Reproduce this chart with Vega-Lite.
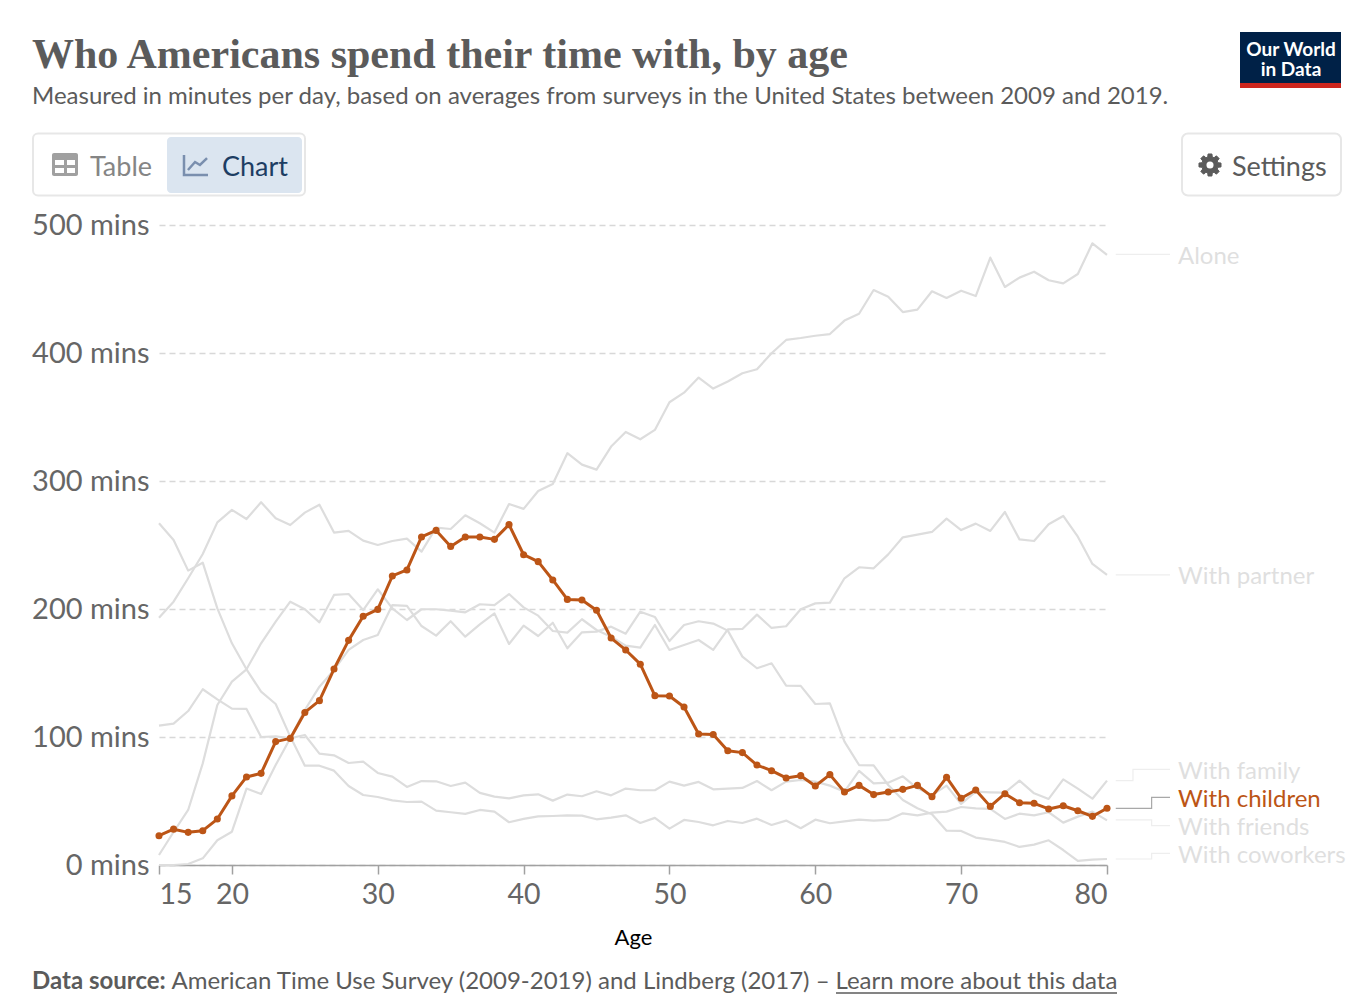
{"$schema":"https://vega.github.io/schema/vega-lite/v6.json","width":948,"height":640,"autosize":"none","padding":{"left":159,"top":225,"right":263,"bottom":135},"background":"white",
"title":{"text":"Who Americans spend their time with, by age","subtitle":"Measured in minutes per day, based on averages from surveys in the United States between 2009 and 2019.","anchor":"start","frame":"group","dx":-127,"offset":-78,"font":"Liberation Serif","fontSize":42,"fontWeight":"bold","color":"#5b5b5b","subtitleFont":"Lato","subtitleFontSize":24,"subtitleColor":"#5b5b5b","subtitlePadding":8},
"config":{"view":{"stroke":null},"text":{"font":"Lato"},"axis":{"labelFont":"Lato","titleFont":"Lato"}},
"datasets":{"times":[
{"age":15,"series":"Alone","mins":193.2},{"age":16,"series":"Alone","mins":205.7},{"age":17,"series":"Alone","mins":224},{"age":18,"series":"Alone","mins":243},{"age":19,"series":"Alone","mins":267.7},{"age":20,"series":"Alone","mins":277.4},{"age":21,"series":"Alone","mins":270.3},{"age":22,"series":"Alone","mins":283.4},{"age":23,"series":"Alone","mins":270.9},{"age":24,"series":"Alone","mins":265.6},{"age":25,"series":"Alone","mins":275.3},{"age":26,"series":"Alone","mins":281.5},{"age":27,"series":"Alone","mins":259.7},{"age":28,"series":"Alone","mins":261},{"age":29,"series":"Alone","mins":253.4},{"age":30,"series":"Alone","mins":250},{"age":31,"series":"Alone","mins":253.1},{"age":32,"series":"Alone","mins":255},{"age":33,"series":"Alone","mins":244.8},{"age":34,"series":"Alone","mins":263.6},{"age":35,"series":"Alone","mins":262.5},{"age":36,"series":"Alone","mins":273.2},{"age":37,"series":"Alone","mins":267},{"age":38,"series":"Alone","mins":259.7},{"age":39,"series":"Alone","mins":282},{"age":40,"series":"Alone","mins":278.2},{"age":41,"series":"Alone","mins":292.2},{"age":42,"series":"Alone","mins":297.7},{"age":43,"series":"Alone","mins":321.7},{"age":44,"series":"Alone","mins":312.8},{"age":45,"series":"Alone","mins":308.9},{"age":46,"series":"Alone","mins":326.9},{"age":47,"series":"Alone","mins":338.3},{"age":48,"series":"Alone","mins":332.6},{"age":49,"series":"Alone","mins":339.9},{"age":50,"series":"Alone","mins":361.5},{"age":51,"series":"Alone","mins":369},{"age":52,"series":"Alone","mins":380.8},{"age":53,"series":"Alone","mins":372.2},{"age":54,"series":"Alone","mins":377.7},{"age":55,"series":"Alone","mins":384.2},{"age":56,"series":"Alone","mins":387.3},{"age":57,"series":"Alone","mins":399.8},{"age":58,"series":"Alone","mins":410.2},{"age":59,"series":"Alone","mins":411.7},{"age":60,"series":"Alone","mins":413.5},{"age":61,"series":"Alone","mins":414.8},{"age":62,"series":"Alone","mins":425.3},{"age":63,"series":"Alone","mins":430.7},{"age":64,"series":"Alone","mins":449.2},{"age":65,"series":"Alone","mins":444},{"age":66,"series":"Alone","mins":432},{"age":67,"series":"Alone","mins":433.9},{"age":68,"series":"Alone","mins":448.2},{"age":69,"series":"Alone","mins":443},{"age":70,"series":"Alone","mins":448.7},{"age":71,"series":"Alone","mins":444.5},{"age":72,"series":"Alone","mins":474.5},{"age":73,"series":"Alone","mins":451.6},{"age":74,"series":"Alone","mins":458.9},{"age":75,"series":"Alone","mins":463.5},{"age":76,"series":"Alone","mins":456.8},{"age":77,"series":"Alone","mins":454.4},{"age":78,"series":"Alone","mins":461.7},{"age":79,"series":"Alone","mins":485.7},{"age":80,"series":"Alone","mins":476.6},
{"age":15,"series":"With partner","mins":7.8},{"age":16,"series":"With partner","mins":25.8},{"age":17,"series":"With partner","mins":43},{"age":18,"series":"With partner","mins":79.4},{"age":19,"series":"With partner","mins":125},{"age":20,"series":"With partner","mins":143.2},{"age":21,"series":"With partner","mins":152.9},{"age":22,"series":"With partner","mins":173.2},{"age":23,"series":"With partner","mins":190.1},{"age":24,"series":"With partner","mins":205.7},{"age":25,"series":"With partner","mins":199.8},{"age":26,"series":"With partner","mins":189.6},{"age":27,"series":"With partner","mins":211},{"age":28,"series":"With partner","mins":211.7},{"age":29,"series":"With partner","mins":199.2},{"age":30,"series":"With partner","mins":215.4},{"age":31,"series":"With partner","mins":200.5},{"age":32,"series":"With partner","mins":191.4},{"age":33,"series":"With partner","mins":199.8},{"age":34,"series":"With partner","mins":199.8},{"age":35,"series":"With partner","mins":198.7},{"age":36,"series":"With partner","mins":197.4},{"age":37,"series":"With partner","mins":203.7},{"age":38,"series":"With partner","mins":203.1},{"age":39,"series":"With partner","mins":211.7},{"age":40,"series":"With partner","mins":201.3},{"age":41,"series":"With partner","mins":194.8},{"age":42,"series":"With partner","mins":182.8},{"age":43,"series":"With partner","mins":181.5},{"age":44,"series":"With partner","mins":192},{"age":45,"series":"With partner","mins":183.6},{"age":46,"series":"With partner","mins":178.4},{"age":47,"series":"With partner","mins":171.4},{"age":48,"series":"With partner","mins":169.8},{"age":49,"series":"With partner","mins":187.5},{"age":50,"series":"With partner","mins":168},{"age":51,"series":"With partner","mins":171.9},{"age":52,"series":"With partner","mins":175.8},{"age":53,"series":"With partner","mins":168},{"age":54,"series":"With partner","mins":184.1},{"age":55,"series":"With partner","mins":184.4},{"age":56,"series":"With partner","mins":195.6},{"age":57,"series":"With partner","mins":185.2},{"age":58,"series":"With partner","mins":186.5},{"age":59,"series":"With partner","mins":199.8},{"age":60,"series":"With partner","mins":204.4},{"age":61,"series":"With partner","mins":205},{"age":62,"series":"With partner","mins":224},{"age":63,"series":"With partner","mins":232.6},{"age":64,"series":"With partner","mins":231.8},{"age":65,"series":"With partner","mins":242.7},{"age":66,"series":"With partner","mins":256},{"age":67,"series":"With partner","mins":258.1},{"age":68,"series":"With partner","mins":260.2},{"age":69,"series":"With partner","mins":270.6},{"age":70,"series":"With partner","mins":261.7},{"age":71,"series":"With partner","mins":266.7},{"age":72,"series":"With partner","mins":261},{"age":73,"series":"With partner","mins":275.8},{"age":74,"series":"With partner","mins":254.4},{"age":75,"series":"With partner","mins":253.1},{"age":76,"series":"With partner","mins":266.2},{"age":77,"series":"With partner","mins":272.7},{"age":78,"series":"With partner","mins":256.5},{"age":79,"series":"With partner","mins":235.2},{"age":80,"series":"With partner","mins":226.6},
{"age":15,"series":"With family","mins":108.9},{"age":16,"series":"With family","mins":110.4},{"age":17,"series":"With family","mins":120.3},{"age":18,"series":"With family","mins":137.3},{"age":19,"series":"With family","mins":129.4},{"age":20,"series":"With family","mins":122.2},{"age":21,"series":"With family","mins":121.9},{"age":22,"series":"With family","mins":100},{"age":23,"series":"With family","mins":100.5},{"age":24,"series":"With family","mins":99},{"age":25,"series":"With family","mins":101.6},{"age":26,"series":"With family","mins":87},{"age":27,"series":"With family","mins":85.7},{"age":28,"series":"With family","mins":79.7},{"age":29,"series":"With family","mins":80.7},{"age":30,"series":"With family","mins":71.9},{"age":31,"series":"With family","mins":69},{"age":32,"series":"With family","mins":61},{"age":33,"series":"With family","mins":65.6},{"age":34,"series":"With family","mins":65.4},{"age":35,"series":"With family","mins":61.7},{"age":36,"series":"With family","mins":64.3},{"age":37,"series":"With family","mins":56.3},{"age":38,"series":"With family","mins":53.4},{"age":39,"series":"With family","mins":52.1},{"age":40,"series":"With family","mins":54.4},{"age":41,"series":"With family","mins":55.2},{"age":42,"series":"With family","mins":50.3},{"age":43,"series":"With family","mins":55},{"age":44,"series":"With family","mins":53.7},{"age":45,"series":"With family","mins":57.6},{"age":46,"series":"With family","mins":54.4},{"age":47,"series":"With family","mins":59.7},{"age":48,"series":"With family","mins":58.4},{"age":49,"series":"With family","mins":58.4},{"age":50,"series":"With family","mins":65.1},{"age":51,"series":"With family","mins":62},{"age":52,"series":"With family","mins":64.9},{"age":53,"series":"With family","mins":59.1},{"age":54,"series":"With family","mins":59.7},{"age":55,"series":"With family","mins":60.2},{"age":56,"series":"With family","mins":65.6},{"age":57,"series":"With family","mins":58.4},{"age":58,"series":"With family","mins":65.1},{"age":59,"series":"With family","mins":66.4},{"age":60,"series":"With family","mins":65.1},{"age":61,"series":"With family","mins":62},{"age":62,"series":"With family","mins":57.3},{"age":63,"series":"With family","mins":73.5},{"age":64,"series":"With family","mins":63.8},{"age":65,"series":"With family","mins":64.3},{"age":66,"series":"With family","mins":69.3},{"age":67,"series":"With family","mins":59.9},{"age":68,"series":"With family","mins":54.7},{"age":69,"series":"With family","mins":62},{"age":70,"series":"With family","mins":47.7},{"age":71,"series":"With family","mins":57.3},{"age":72,"series":"With family","mins":56.8},{"age":73,"series":"With family","mins":56.5},{"age":74,"series":"With family","mins":65.9},{"age":75,"series":"With family","mins":56},{"age":76,"series":"With family","mins":51.6},{"age":77,"series":"With family","mins":66.9},{"age":78,"series":"With family","mins":59.7},{"age":79,"series":"With family","mins":51.8},{"age":80,"series":"With family","mins":65.9},
{"age":15,"series":"With friends","mins":267},{"age":16,"series":"With friends","mins":253.9},{"age":17,"series":"With friends","mins":230},{"age":18,"series":"With friends","mins":236.2},{"age":19,"series":"With friends","mins":200.5},{"age":20,"series":"With friends","mins":173.2},{"age":21,"series":"With friends","mins":152.9},{"age":22,"series":"With friends","mins":135.4},{"age":23,"series":"With friends","mins":125.8},{"age":24,"series":"With friends","mins":100.3},{"age":25,"series":"With friends","mins":77.6},{"age":26,"series":"With friends","mins":77.6},{"age":27,"series":"With friends","mins":73.7},{"age":28,"series":"With friends","mins":61.7},{"age":29,"series":"With friends","mins":54.7},{"age":30,"series":"With friends","mins":53.1},{"age":31,"series":"With friends","mins":50.5},{"age":32,"series":"With friends","mins":49.2},{"age":33,"series":"With friends","mins":49.5},{"age":34,"series":"With friends","mins":42.5},{"age":35,"series":"With friends","mins":41.2},{"age":36,"series":"With friends","mins":39.9},{"age":37,"series":"With friends","mins":43},{"age":38,"series":"With friends","mins":41.7},{"age":39,"series":"With friends","mins":33.4},{"age":40,"series":"With friends","mins":36},{"age":41,"series":"With friends","mins":38},{"age":42,"series":"With friends","mins":38.3},{"age":43,"series":"With friends","mins":38.8},{"age":44,"series":"With friends","mins":38.6},{"age":45,"series":"With friends","mins":35.7},{"age":46,"series":"With friends","mins":37},{"age":47,"series":"With friends","mins":38.8},{"age":48,"series":"With friends","mins":32.8},{"age":49,"series":"With friends","mins":36.8},{"age":50,"series":"With friends","mins":28.4},{"age":51,"series":"With friends","mins":35.2},{"age":52,"series":"With friends","mins":33.6},{"age":53,"series":"With friends","mins":31},{"age":54,"series":"With friends","mins":34.4},{"age":55,"series":"With friends","mins":32.8},{"age":56,"series":"With friends","mins":36.2},{"age":57,"series":"With friends","mins":31.3},{"age":58,"series":"With friends","mins":34.7},{"age":59,"series":"With friends","mins":28.7},{"age":60,"series":"With friends","mins":35.4},{"age":61,"series":"With friends","mins":32.6},{"age":62,"series":"With friends","mins":34.1},{"age":63,"series":"With friends","mins":35.4},{"age":64,"series":"With friends","mins":34.7},{"age":65,"series":"With friends","mins":35.2},{"age":66,"series":"With friends","mins":40.4},{"age":67,"series":"With friends","mins":38.8},{"age":68,"series":"With friends","mins":40.9},{"age":69,"series":"With friends","mins":41.7},{"age":70,"series":"With friends","mins":45.3},{"age":71,"series":"With friends","mins":44.3},{"age":72,"series":"With friends","mins":43.8},{"age":73,"series":"With friends","mins":36},{"age":74,"series":"With friends","mins":40.1},{"age":75,"series":"With friends","mins":38.8},{"age":76,"series":"With friends","mins":41.2},{"age":77,"series":"With friends","mins":33.1},{"age":78,"series":"With friends","mins":37.8},{"age":79,"series":"With friends","mins":41.7},{"age":80,"series":"With friends","mins":34.9},
{"age":15,"series":"With coworkers","mins":0},{"age":16,"series":"With coworkers","mins":0},{"age":17,"series":"With coworkers","mins":0.8},{"age":18,"series":"With coworkers","mins":5.2},{"age":19,"series":"With coworkers","mins":19.3},{"age":20,"series":"With coworkers","mins":26},{"age":21,"series":"With coworkers","mins":59.7},{"age":22,"series":"With coworkers","mins":55.5},{"age":23,"series":"With coworkers","mins":78.1},{"age":24,"series":"With coworkers","mins":99},{"age":25,"series":"With coworkers","mins":121.1},{"age":26,"series":"With coworkers","mins":139.3},{"age":27,"series":"With coworkers","mins":152.4},{"age":28,"series":"With coworkers","mins":168},{"age":29,"series":"With coworkers","mins":175.8},{"age":30,"series":"With coworkers","mins":179.7},{"age":31,"series":"With coworkers","mins":203.1},{"age":32,"series":"With coworkers","mins":202.4},{"age":33,"series":"With coworkers","mins":186.7},{"age":34,"series":"With coworkers","mins":179.2},{"age":35,"series":"With coworkers","mins":190.4},{"age":36,"series":"With coworkers","mins":178.4},{"age":37,"series":"With coworkers","mins":188},{"age":38,"series":"With coworkers","mins":196.6},{"age":39,"series":"With coworkers","mins":172.7},{"age":40,"series":"With coworkers","mins":187},{"age":41,"series":"With coworkers","mins":178.9},{"age":42,"series":"With coworkers","mins":189.3},{"age":43,"series":"With coworkers","mins":169.3},{"age":44,"series":"With coworkers","mins":181.8},{"age":45,"series":"With coworkers","mins":182.3},{"age":46,"series":"With coworkers","mins":186.2},{"age":47,"series":"With coworkers","mins":180.7},{"age":48,"series":"With coworkers","mins":197.9},{"age":49,"series":"With coworkers","mins":193.8},{"age":50,"series":"With coworkers","mins":175},{"age":51,"series":"With coworkers","mins":187.5},{"age":52,"series":"With coworkers","mins":190.4},{"age":53,"series":"With coworkers","mins":188.6},{"age":54,"series":"With coworkers","mins":183.1},{"age":55,"series":"With coworkers","mins":162.8},{"age":56,"series":"With coworkers","mins":153.7},{"age":57,"series":"With coworkers","mins":157.6},{"age":58,"series":"With coworkers","mins":140.1},{"age":59,"series":"With coworkers","mins":139.9},{"age":60,"series":"With coworkers","mins":125.8},{"age":61,"series":"With coworkers","mins":126.3},{"age":62,"series":"With coworkers","mins":96.4},{"age":63,"series":"With coworkers","mins":78.1},{"age":64,"series":"With coworkers","mins":77.9},{"age":65,"series":"With coworkers","mins":62.5},{"age":66,"series":"With coworkers","mins":50.8},{"age":67,"series":"With coworkers","mins":44.3},{"age":68,"series":"With coworkers","mins":39.6},{"age":69,"series":"With coworkers","mins":26.8},{"age":70,"series":"With coworkers","mins":26.6},{"age":71,"series":"With coworkers","mins":21.4},{"age":72,"series":"With coworkers","mins":19.8},{"age":73,"series":"With coworkers","mins":18},{"age":74,"series":"With coworkers","mins":14.1},{"age":75,"series":"With coworkers","mins":15.9},{"age":76,"series":"With coworkers","mins":19.3},{"age":77,"series":"With coworkers","mins":11.7},{"age":78,"series":"With coworkers","mins":3.2},{"age":79,"series":"With coworkers","mins":4.2},{"age":80,"series":"With coworkers","mins":4.7},
{"age":15,"series":"With children","mins":22.9},{"age":16,"series":"With children","mins":28},{"age":17,"series":"With children","mins":25.5},{"age":18,"series":"With children","mins":26.8},{"age":19,"series":"With children","mins":35.9},{"age":20,"series":"With children","mins":54},{"age":21,"series":"With children","mins":68.8},{"age":22,"series":"With children","mins":71.6},{"age":23,"series":"With children","mins":96.4},{"age":24,"series":"With children","mins":98.9},{"age":25,"series":"With children","mins":119.2},{"age":26,"series":"With children","mins":128.4},{"age":27,"series":"With children","mins":153.1},{"age":28,"series":"With children","mins":175.5},{"age":29,"series":"With children","mins":194.3},{"age":30,"series":"With children","mins":199.7},{"age":31,"series":"With children","mins":225.8},{"age":32,"series":"With children","mins":230.5},{"age":33,"series":"With children","mins":256.3},{"age":34,"series":"With children","mins":261.4},{"age":35,"series":"With children","mins":248.9},{"age":36,"series":"With children","mins":256.3},{"age":37,"series":"With children","mins":256.3},{"age":38,"series":"With children","mins":254.4},{"age":39,"series":"With children","mins":265.9},{"age":40,"series":"With children","mins":242.4},{"age":41,"series":"With children","mins":237},{"age":42,"series":"With children","mins":222.7},{"age":43,"series":"With children","mins":207.5},{"age":44,"series":"With children","mins":207},{"age":45,"series":"With children","mins":199},{"age":46,"series":"With children","mins":177.3},{"age":47,"series":"With children","mins":168},{"age":48,"series":"With children","mins":156.9},{"age":49,"series":"With children","mins":132.3},{"age":50,"series":"With children","mins":132},{"age":51,"series":"With children","mins":123.4},{"age":52,"series":"With children","mins":102.3},{"age":53,"series":"With children","mins":102},{"age":54,"series":"With children","mins":89.3},{"age":55,"series":"With children","mins":87.8},{"age":56,"series":"With children","mins":78.1},{"age":57,"series":"With children","mins":73.7},{"age":58,"series":"With children","mins":68},{"age":59,"series":"With children","mins":69.8},{"age":60,"series":"With children","mins":61.7},{"age":61,"series":"With children","mins":70.6},{"age":62,"series":"With children","mins":57},{"age":63,"series":"With children","mins":62.2},{"age":64,"series":"With children","mins":55},{"age":65,"series":"With children","mins":57},{"age":66,"series":"With children","mins":59.1},{"age":67,"series":"With children","mins":62.2},{"age":68,"series":"With children","mins":53.4},{"age":69,"series":"With children","mins":68.5},{"age":70,"series":"With children","mins":52.1},{"age":71,"series":"With children","mins":58.6},{"age":72,"series":"With children","mins":45.8},{"age":73,"series":"With children","mins":55.7},{"age":74,"series":"With children","mins":48.7},{"age":75,"series":"With children","mins":48.2},{"age":76,"series":"With children","mins":43.8},{"age":77,"series":"With children","mins":46.3},{"age":78,"series":"With children","mins":42.4},{"age":79,"series":"With children","mins":38},{"age":80,"series":"With children","mins":44.3}
],
"connectors":[
{"series":"Alone","age":80.6,"mins":477},{"series":"Alone","age":84.32,"mins":477,"label":"Alone"},
{"series":"With partner","age":80.6,"mins":226.6},{"series":"With partner","age":84.32,"mins":226.6,"label":"With partner"},
{"series":"With family","age":80.6,"mins":65.9},{"series":"With family","age":81.78,"mins":65.9},{"series":"With family","age":81.78,"mins":74.7},{"series":"With family","age":84.32,"mins":74.7,"label":"With family"},
{"series":"With children","age":80.6,"mins":44.3},{"series":"With children","age":83.06,"mins":44.3},{"series":"With children","age":83.06,"mins":52.9},{"series":"With children","age":84.32,"mins":52.9,"label":"With children"},
{"series":"With friends","age":80.6,"mins":35.2},{"series":"With friends","age":83.06,"mins":35.2},{"series":"With friends","age":83.06,"mins":30.7},{"series":"With friends","age":84.32,"mins":30.7,"label":"With friends"},
{"series":"With coworkers","age":80.6,"mins":4.7},{"series":"With coworkers","age":83.06,"mins":4.7},{"series":"With coworkers","age":83.06,"mins":9.1},{"series":"With coworkers","age":84.32,"mins":9.1,"label":"With coworkers"}
]},
"layer":[
{"data":{"name":"times"},"transform":[{"filter":"datum.series !== 'With children'"}],"mark":{"type":"line","color":"#dddddd","strokeWidth":2.2,"strokeJoin":"round"},
"encoding":{"x":{"field":"age","type":"quantitative","scale":{"domain":[15,80],"nice":false,"zero":false},"axis":{"values":[15,20,30,40,50,60,70,80],"labelFlush":true,"labelFontSize":28.5,"labelColor":"#666666","labelPadding":6,"domainColor":"#a1a1a1","domainWidth":1.5,"tickColor":"#a1a1a1","tickWidth":1.5,"tickSize":9,"grid":false,"title":"Age","titleFontSize":22,"titleFontWeight":"normal","titleColor":"#000000","titlePadding":19}},
"y":{"field":"mins","type":"quantitative","scale":{"domain":[0,500],"nice":false},"axis":{"values":[0,100,200,300,400,500],"labelExpr":"datum.value + ' mins'","labelFontSize":29,"labelColor":"#666666","labelPadding":10,"domain":false,"ticks":false,"grid":true,"gridColor":"#d8d8d8","gridDash":[6,4],"gridWidth":1.6,"title":null}},
"detail":{"field":"series"}}},
{"data":{"name":"times"},"transform":[{"filter":"datum.series === 'With children'"}],"mark":{"type":"line","color":"#bc5516","strokeWidth":3,"strokeJoin":"round"},"encoding":{"x":{"field":"age","type":"quantitative"},"y":{"field":"mins","type":"quantitative"}}},
{"data":{"name":"times"},"transform":[{"filter":"datum.series === 'With children'"}],"mark":{"type":"point","filled":true,"color":"#bc5516","opacity":1,"size":50},"encoding":{"x":{"field":"age","type":"quantitative"},"y":{"field":"mins","type":"quantitative"}}},
{"data":{"name":"connectors"},"mark":{"type":"line","strokeWidth":1.2,"clip":false},"encoding":{"x":{"field":"age","type":"quantitative"},"y":{"field":"mins","type":"quantitative"},"detail":{"field":"series"},"order":{"value":0},"color":{"condition":{"test":"datum.series === 'With children'","value":"#a8a8a8"},"value":"#eeeeee"}}},
{"data":{"name":"connectors"},"transform":[{"filter":"datum.label"}],"mark":{"type":"text","align":"left","baseline":"middle","dx":8,"dy":2.5,"fontSize":24,"font":"Lato"},"encoding":{"x":{"field":"age","type":"quantitative"},"y":{"field":"mins","type":"quantitative"},"text":{"field":"label"},"color":{"condition":{"test":"datum.series === 'With children'","value":"#bc5516"},"value":"#dfdfdf"}}},
{"data":{"values":[{}]},"layer":[
{"mark":{"type":"rect","fill":"white","stroke":"#e7e7e7","strokeWidth":2,"cornerRadius":5},"encoding":{"x":{"value":-126},"x2":{"value":146},"y":{"value":-91.5},"y2":{"value":-29.5}}},
{"mark":{"type":"rect","fill":"#dbe5f0","cornerRadius":4},"encoding":{"x":{"value":8},"x2":{"value":143},"y":{"value":-88},"y2":{"value":-32}}},
{"mark":{"type":"rect","fill":"#a0a0a0","cornerRadius":2},"encoding":{"x":{"value":-107},"x2":{"value":-81},"y":{"value":-72},"y2":{"value":-49}}},
{"mark":{"type":"rect","fill":"#ffffff"},"encoding":{"x":{"value":-104},"x2":{"value":-95},"y":{"value":-65},"y2":{"value":-60}}},
{"mark":{"type":"rect","fill":"#ffffff"},"encoding":{"x":{"value":-92},"x2":{"value":-84},"y":{"value":-65},"y2":{"value":-60}}},
{"mark":{"type":"rect","fill":"#ffffff"},"encoding":{"x":{"value":-104},"x2":{"value":-95},"y":{"value":-57},"y2":{"value":-52}}},
{"mark":{"type":"rect","fill":"#ffffff"},"encoding":{"x":{"value":-92},"x2":{"value":-84},"y":{"value":-57},"y2":{"value":-52}}},
{"mark":{"type":"point","filled":false,"stroke":"#7a8fae","strokeWidth":2.5,"opacity":1,"shape":"M -1 -0.83 L -1 0.83 L 1 0.83 M -0.67 0.42 L -0.08 -0.25 L 0.33 0 L 0.92 -0.58","size":576},"encoding":{"x":{"value":37},"y":{"value":-60}}},
{"mark":{"type":"text","text":"Table","align":"left","baseline":"middle","fontSize":27,"color":"#858585","font":"Lato"},"encoding":{"x":{"value":-69},"y":{"value":-57.5}}},
{"mark":{"type":"text","text":"Chart","align":"left","baseline":"middle","fontSize":27,"color":"#1d3d63","font":"Lato"},"encoding":{"x":{"value":63},"y":{"value":-57.5}}},
{"mark":{"type":"rect","fill":"white","stroke":"#e7e7e7","strokeWidth":2,"cornerRadius":6},"encoding":{"x":{"value":1023},"x2":{"value":1182},"y":{"value":-91.5},"y2":{"value":-29.5}}},
{"mark":{"type":"point","filled":true,"fill":"#5b5b5b","stroke":"#5b5b5b","strokeWidth":1,"opacity":1,"shape":"M .711 -.204 L .985 -.174 L .985 .174 L .711 .204 L .647 .359 L .819 .574 L .574 .819 L .359 .647 L .204 .711 L .174 .985 L -.174 .985 L -.204 .711 L -.359 .647 L -.574 .819 L -.819 .574 L -.647 .359 L -.711 .204 L -.985 .174 L -.985 -.174 L -.711 -.204 L -.647 -.359 L -.819 -.574 L -.574 -.819 L -.359 -.647 L -.204 -.711 L -.174 -.985 L .174 -.985 L .204 -.711 L .359 -.647 L .574 -.819 L .819 -.574 L .647 -.359 Z","size":500},"encoding":{"x":{"value":1051},"y":{"value":-60}}},
{"mark":{"type":"point","filled":true,"fill":"#ffffff","opacity":1,"shape":"circle","size":50},"encoding":{"x":{"value":1051},"y":{"value":-60}}},
{"mark":{"type":"text","text":"Settings","align":"left","baseline":"middle","fontSize":27,"color":"#5b5b5b","font":"Lato"},"encoding":{"x":{"value":1073},"y":{"value":-57.5}}},
{"mark":{"type":"rect","fill":"#002147"},"encoding":{"x":{"value":1081},"x2":{"value":1182},"y":{"value":-193},"y2":{"value":-142}}},
{"mark":{"type":"rect","fill":"#ce261e"},"encoding":{"x":{"value":1081},"x2":{"value":1182},"y":{"value":-142},"y2":{"value":-137}}},
{"mark":{"type":"text","text":"Our World","align":"center","baseline":"middle","fontSize":19,"fontWeight":"bold","color":"#ffffff","font":"Lato"},"encoding":{"x":{"value":1132},"y":{"value":-175}}},
{"mark":{"type":"text","text":"in Data","align":"center","baseline":"middle","fontSize":19,"fontWeight":"bold","color":"#ffffff","font":"Lato"},"encoding":{"x":{"value":1132},"y":{"value":-155}}},
{"mark":{"type":"text","text":"Data source:","align":"left","baseline":"alphabetic","fontSize":24,"fontWeight":"bold","color":"#5b5b5b","font":"Lato"},"encoding":{"x":{"value":-127},"y":{"value":764}}},
{"mark":{"type":"text","text":"American Time Use Survey (2009-2019) and Lindberg (2017) –","align":"left","baseline":"alphabetic","fontSize":24,"color":"#5b5b5b","font":"Lato"},"encoding":{"x":{"value":12.5},"y":{"value":764}}},
{"mark":{"type":"text","text":"Learn more about this data","align":"left","baseline":"alphabetic","fontSize":24,"color":"#5b5b5b","font":"Lato"},"encoding":{"x":{"value":676.5},"y":{"value":764}}},
{"mark":{"type":"rule","color":"#5b5b5b","strokeWidth":1.5},"encoding":{"x":{"value":677},"x2":{"value":958},"y":{"value":768}}}
]}
]}
